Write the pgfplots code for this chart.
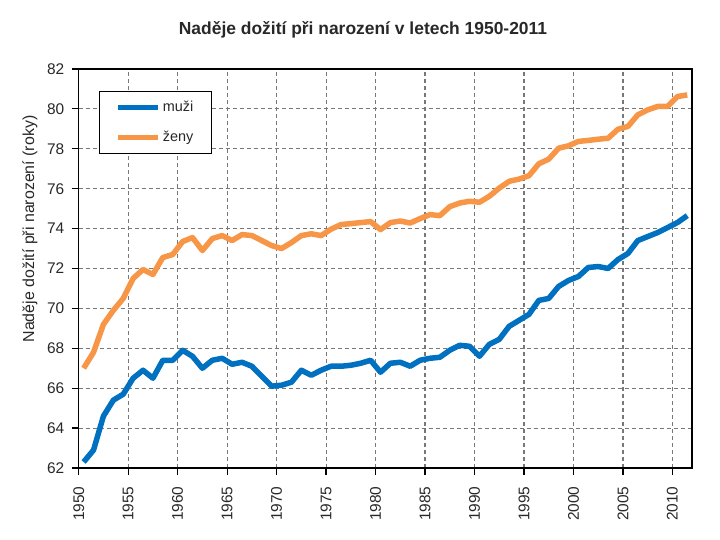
\documentclass[border=0pt]{standalone}
\usepackage{pgfplots}
\usepackage{pgfplotstable}
\pgfplotsset{compat=1.18}
\usepackage{fontspec}
\setmainfont{Liberation Sans}
\definecolor{muzi}{RGB}{0,112,192}
\definecolor{zeny}{RGB}{247,150,70}
\definecolor{gridc}{RGB}{120,120,120}
\definecolor{txt}{RGB}{40,40,40}
\pgfplotstableread{
year muzi zeny
1950 62.3 67.0
1951 62.9 67.8
1952 64.6 69.2
1953 65.4 69.9
1954 65.7 70.5
1955 66.5 71.5
1956 66.9 71.95
1957 66.5 71.7
1958 67.4 72.55
1959 67.4 72.7
1960 67.9 73.35
1961 67.6 73.55
1962 67.0 72.9
1963 67.4 73.5
1964 67.5 73.65
1965 67.2 73.4
1966 67.3 73.7
1967 67.1 73.65
1968 66.6 73.4
1969 66.1 73.15
1970 66.15 73.0
1971 66.3 73.3
1972 66.9 73.65
1973 66.65 73.74
1974 66.9 73.65
1975 67.1 73.97
1976 67.1 74.2
1977 67.15 74.25
1978 67.25 74.3
1979 67.4 74.35
1980 66.8 73.95
1981 67.25 74.3
1982 67.3 74.38
1983 67.1 74.28
1984 67.4 74.5
1985 67.5 74.7
1986 67.55 74.65
1987 67.9 75.1
1988 68.15 75.28
1989 68.1 75.37
1990 67.6 75.32
1991 68.2 75.62
1992 68.45 76.03
1993 69.1 76.37
1994 69.4 76.48
1995 69.7 76.65
1996 70.4 77.25
1997 70.5 77.48
1998 71.1 78.03
1999 71.4 78.15
2000 71.6 78.37
2001 72.05 78.42
2002 72.1 78.48
2003 72.0 78.53
2004 72.45 78.98
2005 72.75 79.12
2006 73.4 79.7
2007 73.6 79.95
2008 73.8 80.12
2009 74.05 80.12
2010 74.3 80.62
2011 74.65 80.7
}\data
\begin{document}
\begin{tikzpicture}[x=1bp,y=1bp]
\useasboundingbox (0,0) rectangle (720,540);
\node[font=\bfseries\fontsize{17.5}{17.5}\selectfont, text=txt] at (363,510) {Naděje dožití při narození v letech 1950-2011};
\node[rotate=90, font=\fontsize{16}{16}\selectfont, text=txt] at (30,311) {Naděje dožití při narození (roky)};
\begin{axis}[
  at={(78.7bp,72bp)}, anchor=south west,
  width=613.5bp, height=399bp, scale only axis,
  xmin=1950, xmax=2012, ymin=62, ymax=82,
  xtick={1950,1955,...,2010}, ytick={62,64,...,82},
  /pgf/number format/assume math mode=true,
  /pgf/number format/set thousands separator={},
  x tick label style={rotate=90, anchor=east, font=\fontsize{15.5}{15.5}\selectfont, text=txt},
  y tick label style={font=\fontsize{15.5}{15.5}\selectfont, text=txt},
  xticklabel shift=8bp, yticklabel shift=4bp,
  tick align=outside, tick pos=left, major tick length=7bp,
  tick style={black, line width=1.2bp},
  grid=major,
  major grid style={gridc, line width=1.1bp, dash pattern=on 4bp off 3bp},
  axis line style={black, line width=1.5bp},
  legend style={at={(0.033,0.945)}, anchor=north west, draw=black, line width=0.8bp,
    font=\fontsize{14.5}{14.5}\selectfont, row sep=14bp, inner xsep=16bp, inner ysep=8bp,
    nodes={inner sep=2bp, text=txt}},
  legend cell align=left,
  legend image code/.code={\draw[#1] (0bp,0bp) -- (40bp,0bp);},
]
\addplot[muzi, line width=5.5bp, line join=round] table[x expr=\thisrow{year}+0.5, y=muzi] {\data};
\addlegendentry{muži}
\addplot[zeny, line width=5.5bp, line join=round] table[x expr=\thisrow{year}+0.5, y=zeny] {\data};
\addlegendentry{ženy}
\end{axis}
\end{tikzpicture}
\end{document}
